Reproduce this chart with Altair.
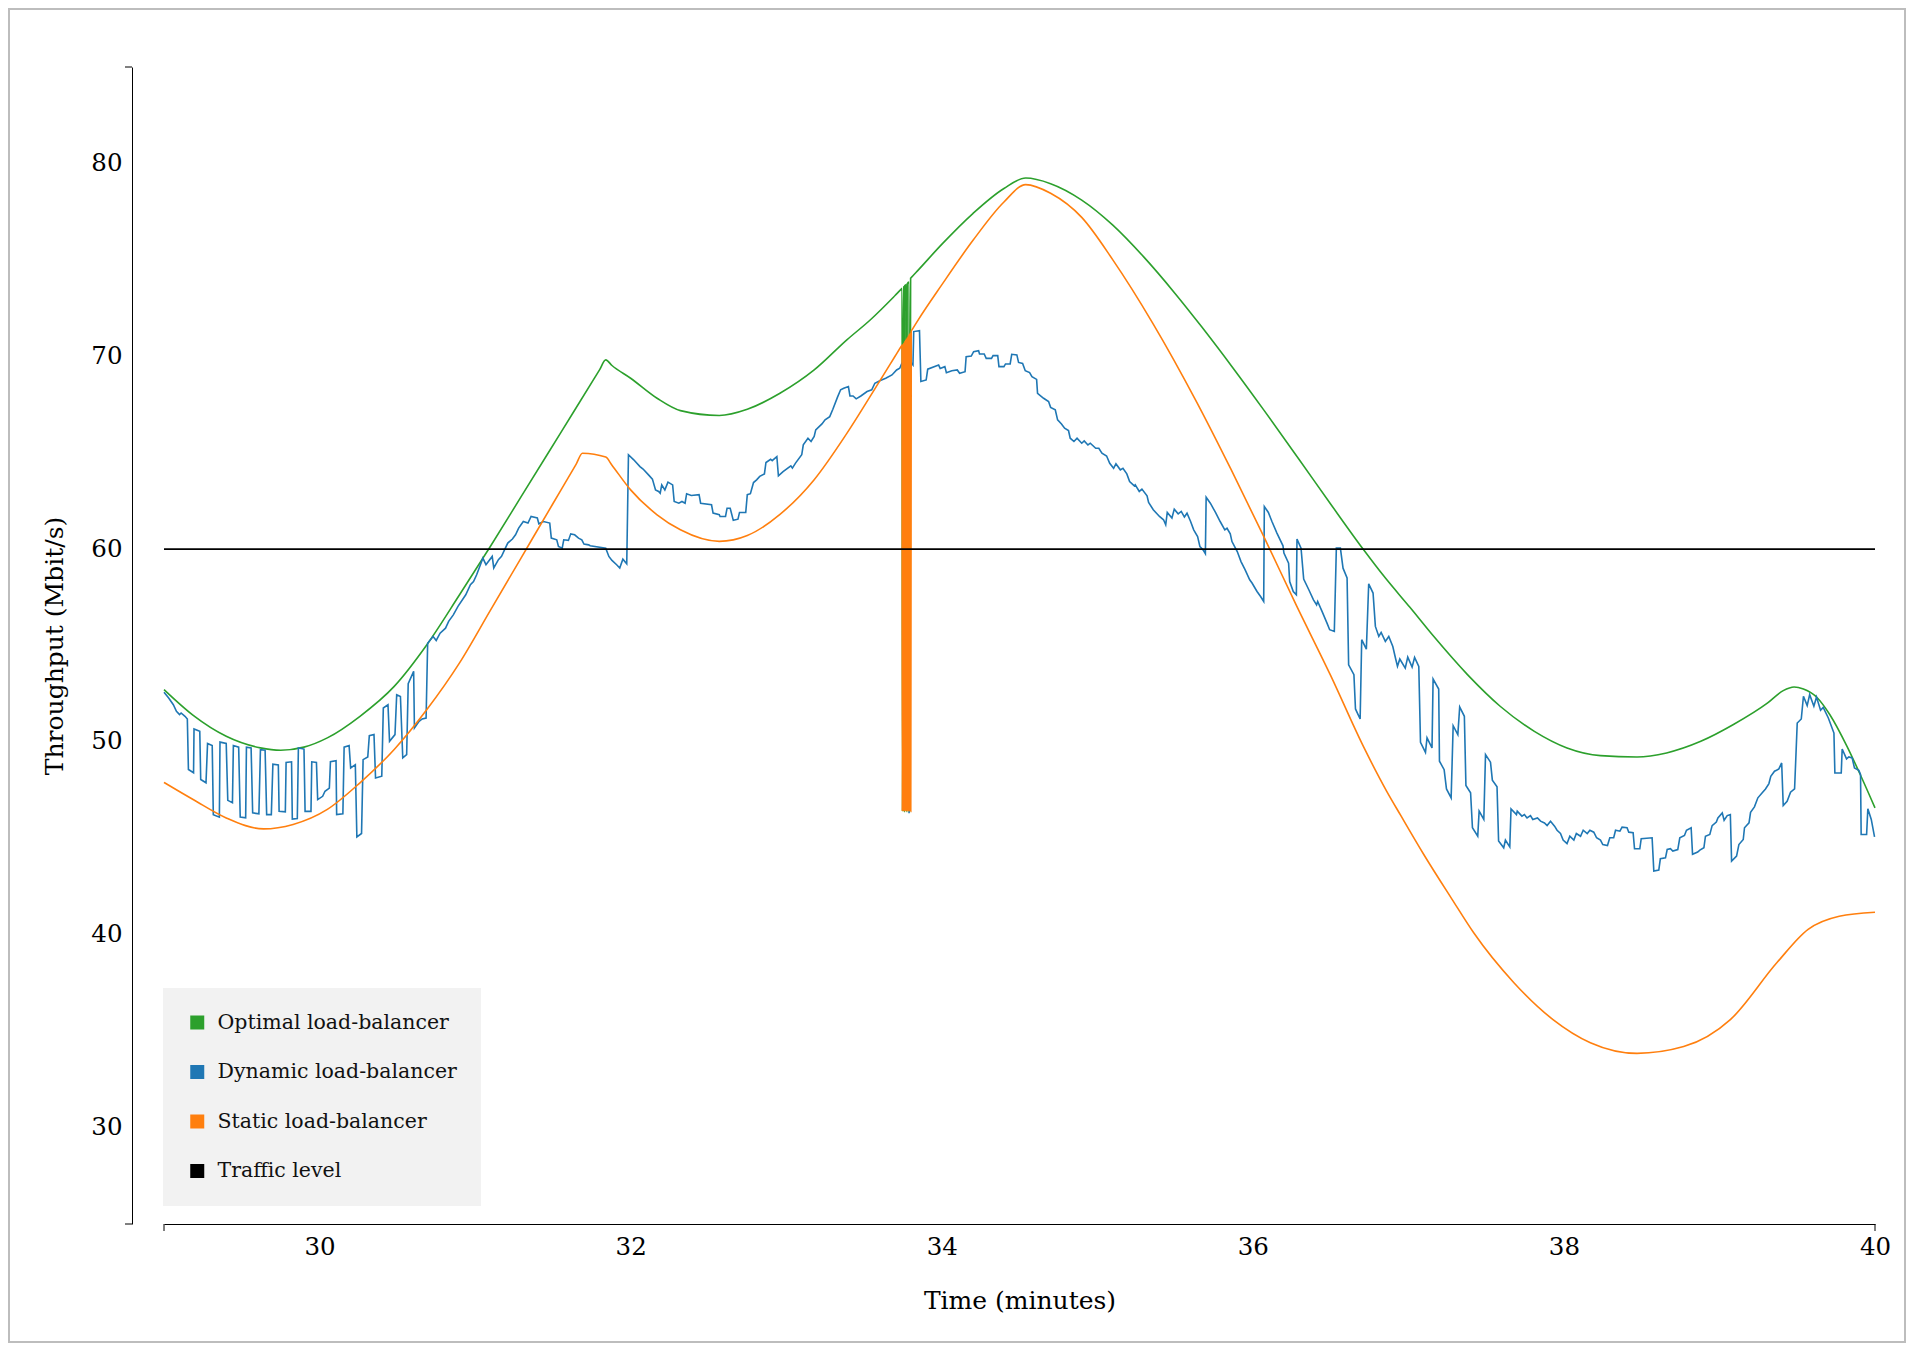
import altair as alt
import pandas as pd

# ---------------- data ----------------
series_names = ["Optimal load-balancer", "Dynamic load-balancer",
                "Static load-balancer", "Traffic level"]
series_colors = ["#2ca02c", "#1f77b4", "#ff7f0e", "#000000"]

x_ticks = [30, 32, 34, 36, 38, 40]
y_ticks = [30, 40, 50, 60, 70, 80]
x_domain = [29, 40]
y_domain = [25, 85]

optimal_t = [29.0, 29.19, 29.40, 29.62, 29.75, 29.90, 30.05, 30.26, 30.48, 30.69,
             30.90, 31.10, 31.30, 31.55, 31.80, 31.84, 31.88, 32.00, 32.17, 32.32,
             32.57, 32.75, 32.96, 33.18, 33.39, 33.54, 33.70, 33.74, 33.745,
             33.748, 33.752, 33.756, 33.758, 33.762, 33.772, 33.774, 33.778, 33.790, 33.792, 33.800,
             33.805, 33.85, 34.0, 34.2, 34.4, 34.54, 34.7, 34.9, 35.1, 35.3, 35.5, 35.67,
             35.87, 36.07, 36.3, 36.5, 36.71, 36.85, 37.01, 37.16, 37.38, 37.59,
             37.81, 38.02, 38.235, 38.47, 38.66, 38.88, 39.09, 39.31, 39.41, 39.48,
             39.54, 39.63, 39.71, 39.82, 39.91, 40.0]
optimal_v = [52.71, 51.36, 50.29, 49.69, 49.57, 49.73, 50.21, 51.33, 52.88, 55.04,
             57.63, 60.16, 62.77, 66.03, 69.29, 69.81, 69.52, 68.86, 67.82, 67.18,
             66.93, 67.25, 68.08, 69.29, 70.85, 71.88, 73.15, 73.48, 73.52,
             46.4, 73.6, 73.6, 46.4, 73.65, 73.7, 46.4, 73.75, 73.85, 46.4, 74.05,
             74.09, 74.48, 75.8, 77.4, 78.7, 79.24, 78.95, 78.1, 76.8, 75.14, 73.26, 71.54,
             69.42, 67.22, 64.62, 62.34, 59.99, 58.52, 56.98, 55.5, 53.49, 51.85,
             50.55, 49.69, 49.29, 49.22, 49.43, 50.03, 50.9, 52.02, 52.66, 52.85,
             52.74, 52.28, 51.41, 49.77, 48.22, 46.58]

static_t = [29.0, 29.19, 29.40, 29.64, 29.83, 30.05, 30.26, 30.48, 30.69, 30.90,
            31.10, 31.30, 31.50, 31.65, 31.69, 31.84, 31.88, 32.00, 32.17, 32.32,
            32.57, 32.75, 32.96, 33.18, 33.39, 33.60, 33.70, 33.74, 33.745,
            33.747, 33.751, 33.753, 33.757, 33.759, 33.763, 33.765, 33.769, 33.771, 33.775,
            33.777, 33.781, 33.783, 33.787, 33.789, 33.793, 33.795, 33.799, 33.801, 33.804,
            33.81, 33.85, 34.0, 34.2, 34.4, 34.54, 34.7, 34.9, 35.1, 35.36, 35.64,
            35.86, 36.07, 36.28, 36.50, 36.71, 36.86, 36.95, 37.10, 37.28, 37.42,
            37.68, 37.93, 38.17, 38.47, 38.77, 39.07, 39.37, 39.57, 39.77, 40.0]
static_v = [47.9, 47.0, 46.06, 45.49, 45.72, 46.5, 47.88, 49.61, 51.68, 54.1,
            56.85, 59.6, 62.35, 64.41, 64.97, 64.77, 64.35, 63.07, 61.78, 61.0,
            60.4, 60.7, 61.8, 63.6, 66.0, 68.7, 70.0, 70.52, 70.58,
            46.4, 70.65, 46.4, 70.72, 46.4, 70.8, 46.4, 70.88, 46.4, 70.95,
            46.4, 71.02, 46.4, 71.1, 46.4, 71.18, 46.4, 71.25, 46.4, 71.3,
            71.38, 71.9, 73.7, 76.0, 78.0, 78.9, 78.45, 77.2, 75.0, 71.67, 67.61,
            64.13, 60.66, 57.08, 53.45, 49.78, 47.45, 46.2, 44.15, 41.85, 40.1,
            37.5, 35.6, 34.4, 33.85, 34.2, 35.6, 38.56, 40.28, 40.96, 41.17]

dynamic_t = [
    29.00, 29.03, 29.06, 29.08, 29.10, 29.11, 29.135, 29.15, 29.157, 29.19,
    29.193, 29.23, 29.236, 29.27, 29.28, 29.31, 29.317, 29.356, 29.36, 29.40,
    29.41, 29.44, 29.446, 29.48, 29.49, 29.525, 29.53, 29.56, 29.57, 29.61,
    29.62, 29.65, 29.66, 29.69, 29.70, 29.735, 29.74, 29.78, 29.785, 29.82,
    29.825, 29.857, 29.864, 29.90, 29.907, 29.945, 29.95, 29.98, 29.988, 30.02,
    30.035, 30.063, 30.07, 30.106, 30.11, 30.15, 30.158, 30.19, 30.20, 30.23,
    30.24, 30.27, 30.28, 30.31, 30.32, 30.35, 30.36, 30.40, 30.41, 30.44,
    30.45, 30.485, 30.496, 30.52, 30.535, 30.56, 30.57, 30.605, 30.61, 30.64,
    30.66, 30.685, 30.695, 30.73, 30.75, 30.775, 30.81, 30.83, 30.86, 30.89,
    30.94, 30.97, 30.99, 31.01, 31.03, 31.05, 31.07, 31.11, 31.12, 31.15,
    31.17, 31.19, 31.21, 31.24, 31.26, 31.28, 31.31, 31.34, 31.36, 31.40,
    31.41, 31.44, 31.48, 31.49, 31.525, 31.536, 31.56, 31.57, 31.60, 31.615,
    31.64, 31.665, 31.686, 31.70, 31.73, 31.74, 31.84, 31.86, 31.88, 31.91,
    31.93, 31.95, 31.975, 31.986, 32.02, 32.06, 32.08, 32.115, 32.14, 32.16,
    32.18, 32.19, 32.20, 32.22, 32.24, 32.27, 32.28, 32.31, 32.33, 32.35,
    32.36, 32.39, 32.44, 32.45, 32.52, 32.53, 32.57, 32.575, 32.61, 32.62,
    32.64, 32.66, 32.69, 32.70, 32.74, 32.75, 32.77, 32.79, 32.81, 32.83,
    32.86, 32.87, 32.90, 32.91, 32.94, 32.95, 32.98, 33.03, 33.04, 33.06,
    33.10, 33.11, 33.14, 33.16, 33.18, 33.19, 33.23, 33.25, 33.28, 33.30,
    33.33, 33.35, 33.37, 33.40, 33.41, 33.43, 33.45, 33.48, 33.52, 33.55,
    33.57, 33.605, 33.64, 33.68, 33.71, 33.73, 33.744, 33.787, 33.790, 33.795,
    33.815, 33.82, 33.857, 33.866, 33.90, 33.91, 33.98, 33.99, 34.02, 34.03,
    34.065, 34.10, 34.115, 34.15, 34.157, 34.19, 34.205, 34.237, 34.243, 34.273,
    34.286, 34.32, 34.33, 34.36, 34.368, 34.40, 34.41, 34.44, 34.45, 34.483,
    34.494, 34.52, 34.537, 34.565, 34.58, 34.61, 34.616, 34.655, 34.687, 34.70,
    34.73, 34.745, 34.77, 34.79, 34.815, 34.826, 34.85, 34.87, 34.90, 34.916,
    34.94, 34.955, 34.99, 35.01, 35.03, 35.06, 35.08, 35.105, 35.12, 35.148,
    35.165, 35.19, 35.208, 35.238, 35.244, 35.27, 35.287, 35.32, 35.33, 35.36,
    35.40, 35.426, 35.44, 35.45, 35.48, 35.495, 35.52, 35.54, 35.56, 35.577,
    35.60, 35.62, 35.645, 35.66, 35.68, 35.695, 35.70, 35.727, 35.76, 35.79,
    35.82, 35.834, 35.855, 35.866, 35.90, 35.924, 35.95, 35.98, 35.995, 36.027,
    36.05, 36.07, 36.074, 36.10, 36.123, 36.155, 36.194, 36.20, 36.23, 36.237,
    36.26, 36.28, 36.284, 36.31, 36.327, 36.36, 36.39, 36.41, 36.417, 36.445,
    36.477, 36.494, 36.524, 36.537, 36.563, 36.58, 36.606, 36.616, 36.65, 36.66,
    36.69, 36.70, 36.73, 36.745, 36.773, 36.788, 36.81, 36.825, 36.852, 36.874,
    36.90, 36.917, 36.93, 36.945, 36.98, 36.996, 37.024, 37.04, 37.067, 37.078,
    37.11, 37.12, 37.152, 37.159, 37.195, 37.20, 37.23, 37.245, 37.275, 37.288,
    37.318, 37.33, 37.36, 37.37, 37.40, 37.412, 37.446, 37.455, 37.485, 37.496,
    37.528, 37.54, 37.57, 37.58, 37.613, 37.624, 37.652, 37.66, 37.695, 37.70,
    37.73, 37.746, 37.763, 37.785, 37.80, 37.83, 37.85, 37.875, 37.892, 37.914,
    37.94, 37.956, 37.978, 37.995, 38.02, 38.038, 38.064, 38.08, 38.107, 38.124,
    38.15, 38.167, 38.192, 38.21, 38.235, 38.25, 38.28, 38.295, 38.32, 38.332,
    38.36, 38.374, 38.406, 38.417, 38.445, 38.454, 38.488, 38.497, 38.567, 38.578,
    38.61, 38.62, 38.653, 38.664, 38.685, 38.70, 38.732, 38.745, 38.775, 38.788,
    38.818, 38.827, 38.86, 38.874, 38.90, 38.91, 38.938, 38.953, 38.98, 38.99,
    39.018, 39.03, 39.05, 39.07, 39.078, 39.11, 39.125, 39.153, 39.161, 39.19,
    39.20, 39.225, 39.247, 39.275, 39.296, 39.318, 39.33, 39.354, 39.367, 39.382,
    39.40, 39.41, 39.435, 39.457, 39.483, 39.50, 39.526, 39.54, 39.564, 39.58,
    39.607, 39.624, 39.65, 39.667, 39.70, 39.736, 39.742, 39.783, 39.789, 39.817,
    39.832, 39.853, 39.868, 39.896, 39.907, 39.911, 39.946, 39.954, 39.976, 39.997]
dynamic_v = [
    52.57, 52.28, 51.93, 51.59, 51.42, 51.50, 51.33, 51.19, 48.57, 48.40,
    50.67, 50.55, 48.05, 47.88, 49.92, 49.81, 46.23, 46.10, 49.99, 49.92,
    46.97, 46.85, 49.81, 49.73, 46.10, 46.06, 49.73, 49.69, 46.32, 46.27,
    49.60, 49.57, 46.23, 46.23, 48.84, 48.80, 46.40, 46.37, 48.94, 48.97,
    46.00, 46.03, 49.69, 49.63, 46.40, 46.40, 48.97, 48.94, 47.01, 47.18,
    47.44, 47.60, 48.97, 49.02, 46.23, 46.27, 49.73, 49.81, 48.65, 48.82,
    45.07, 45.25, 49.08, 49.22, 50.32, 50.38, 48.13, 48.22, 51.76, 51.93,
    50.03, 50.38, 52.45, 52.36, 49.17, 49.34, 53.02, 53.66, 50.72, 51.07,
    51.19, 51.24, 55.12, 55.47, 55.26, 55.64, 55.90, 56.25, 56.59, 57.03,
    57.63, 58.15, 58.32, 58.67, 59.10, 59.53, 59.19, 59.62, 59.02, 59.45,
    59.62, 59.97, 60.31, 60.52, 60.74, 61.09, 61.43, 61.35, 61.69, 61.61,
    61.31, 61.43, 61.35, 60.57, 60.48, 60.14, 60.05, 60.48, 60.45, 60.79,
    60.74, 60.57, 60.48, 60.26, 60.22, 60.17, 60.05, 59.62, 59.41, 59.19,
    59.02, 59.48, 59.24, 64.89, 64.63, 64.28, 64.15, 63.85, 63.63, 63.07,
    62.99, 62.90, 63.33, 63.07, 63.47, 63.33, 62.47, 62.38, 62.47, 62.38,
    62.87, 62.78, 62.82, 62.38, 62.30, 61.87, 61.78, 61.69, 61.69, 62.12,
    62.12, 61.49, 61.55, 61.90, 61.90, 62.82, 62.87, 63.45, 63.59, 63.77,
    63.90, 64.49, 64.66, 64.59, 64.80, 63.80, 64.02, 64.32, 64.20, 64.46,
    64.89, 65.41, 65.75, 65.58, 65.84, 66.18, 66.49, 66.70, 66.87, 67.25,
    67.88, 68.26, 68.34, 68.43, 67.94, 67.94, 67.79, 67.94, 68.17, 68.26,
    68.60, 68.74, 68.86, 69.03, 69.29, 69.38, 69.64, 69.70, 46.30, 69.75,
    69.55, 71.28, 71.33, 68.69, 68.77, 69.33, 69.55, 69.37, 69.46, 69.15,
    69.25, 69.29, 69.12, 69.20, 69.98, 70.01, 70.24, 70.29, 70.12, 70.12,
    69.89, 69.89, 70.03, 70.03, 69.46, 69.46, 69.60, 69.60, 70.10, 70.07,
    69.68, 69.63, 69.25, 69.15, 68.94, 68.80, 68.08, 67.82, 67.65, 67.35,
    67.22, 66.70, 66.49, 66.27, 66.15, 65.75, 65.58, 65.75, 65.49, 65.61,
    65.40, 65.49, 65.23, 65.23, 64.97, 64.83, 64.45, 64.19, 64.42, 64.11,
    64.19, 63.90, 63.50, 63.28, 63.33, 62.99, 63.11, 62.76, 62.42, 62.04,
    61.69, 61.52, 61.26, 61.90, 61.61, 62.07, 61.83, 61.95, 61.66, 61.86,
    61.43, 61.00, 60.65, 60.13, 59.96, 59.76, 62.69, 62.38, 61.90, 61.43,
    61.00, 61.08, 60.79, 60.39, 59.87, 59.35, 58.93, 58.41, 58.24, 57.80,
    57.54, 57.28, 62.21, 61.90, 61.43, 60.83, 60.17, 59.79, 59.27, 58.32,
    57.80, 57.63, 60.52, 60.05, 58.45, 57.89, 57.37, 57.11, 57.28, 56.77,
    56.16, 55.82, 55.73, 60.05, 60.05, 59.01, 58.50, 54.00, 53.49, 51.71,
    51.19, 55.30, 54.81, 58.20, 57.72, 55.99, 55.47, 55.68, 55.21, 55.47,
    54.95, 54.35, 53.92, 54.30, 53.83, 54.40, 53.88, 54.38, 53.92, 49.98,
    49.46, 50.21, 49.69, 53.26, 52.74, 49.00, 48.56, 47.56, 47.10, 50.84,
    50.38, 51.81, 51.33, 47.74, 47.36, 45.55, 45.11, 46.41, 45.98, 49.34,
    48.95, 48.02, 47.67, 44.86, 44.51, 44.91, 44.56, 46.53, 46.23, 46.41,
    46.15, 46.23, 46.06, 46.18, 45.98, 46.06, 45.89, 45.80, 45.66, 45.89,
    45.63, 45.42, 45.25, 44.91, 44.73, 45.11, 44.91, 45.25, 45.11, 45.42,
    45.25, 45.42, 45.32, 45.03, 44.91, 44.68, 44.63, 45.03, 45.03, 45.42,
    45.37, 45.58, 45.55, 45.32, 45.29, 44.46, 44.46, 44.98, 45.03, 43.30,
    43.35, 43.94, 43.99, 44.42, 44.46, 44.34, 44.42, 45.03, 45.15, 45.42,
    45.55, 44.17, 44.29, 44.39, 44.51, 45.11, 45.20, 45.66, 45.84, 46.06,
    46.32, 45.94, 46.18, 46.23, 43.82, 44.08, 44.68, 44.94, 45.55, 45.80,
    46.35, 46.63, 47.10, 47.36, 47.56, 47.84, 48.22, 48.48, 48.53, 48.60,
    48.91, 46.70, 46.92, 47.39, 47.56, 50.98, 51.19, 52.37, 51.88, 52.45,
    51.85, 52.33, 51.64, 51.79, 51.24, 50.46, 48.39, 48.39, 49.63, 49.12,
    49.22, 49.17, 48.65, 48.53, 48.31, 45.20, 45.20, 46.53, 45.98, 45.08]

traffic_t = [29.0, 40.0]
traffic_v = [60.0, 60.0]

# ---------------- build the table ----------------
frames = []
for name, ts, vs in [(series_names[0], optimal_t, optimal_v),
                     (series_names[1], dynamic_t, dynamic_v),
                     (series_names[2], static_t, static_v),
                     (series_names[3], traffic_t, traffic_v)]:
    frames.append(pd.DataFrame({"t": ts, "v": vs, "series": name,
                                "i": list(range(len(ts)))}))
df = pd.concat(frames, ignore_index=True)

W, H = 1711, 1157
FONT = "DejaVu Serif"

x_enc = alt.X("t:Q",
              scale=alt.Scale(domain=x_domain, nice=False, zero=False),
              axis=alt.Axis(values=x_ticks, title="Time (minutes)", grid=False,
                            ticks=False, tickSize=0, domainColor="#000",
                            domainWidth=1, labelFont=FONT, labelFontSize=24.5,
                            labelColor="#000", labelPadding=11, labelFlush=False,
                            labelOverlap=False, titleFont=FONT, titleFontSize=25,
                            titleFontWeight="normal", titleColor="#000",
                            titlePadding=30))
y_enc = alt.Y("v:Q",
              scale=alt.Scale(domain=y_domain, nice=False, zero=False),
              axis=alt.Axis(values=y_ticks, title="Throughput (Mbit/s)", grid=False,
                            ticks=False, tickSize=0, offset=32, domainColor="#000",
                            domainWidth=1, labelFont=FONT, labelFontSize=24.5,
                            labelColor="#000", labelPadding=10, labelFlush=False,
                            labelOverlap=False, titleFont=FONT, titleFontSize=25,
                            titleFontWeight="normal", titleColor="#000",
                            titlePadding=23))
color_enc = alt.Color("series:N",
                      scale=alt.Scale(domain=series_names, range=series_colors),
                      legend=alt.Legend(title=None, orient="none", legendX=-1,
                                        legendY=921, fillColor="#f2f2f2",
                                        padding=24, symbolType="square",
                                        symbolSize=49, symbolStrokeWidth=7,
                                        symbolOpacity=1, labelFont=FONT,
                                        labelFontSize=20.5, labelColor="#111",
                                        labelOffset=10, rowPadding=28.5,
                                        clipHeight=21, labelLimit=500))

border = alt.Chart(pd.DataFrame({"a": [0]})).mark_rect(
    fill="transparent", stroke="#bdbdbd", strokeWidth=2).encode(
    x=alt.value(-155), x2=alt.value(W + 30), y=alt.value(-58), y2=alt.value(H + 118))

lines = []
for name in series_names:
    interp = "monotone" if name in (series_names[0], series_names[2]) else "linear"
    lines.append(
        alt.Chart(df).transform_filter(alt.datum.series == name)
        .mark_line(strokeWidth=1.6 if name != "Traffic level" else 1.8,
                   interpolate=interp)
        .encode(x=x_enc, y=y_enc, color=color_enc, order=alt.Order("i:Q"))
    )

x_end_ticks = alt.Chart(pd.DataFrame({"t": x_domain})).mark_rule(
    color="#000", strokeWidth=1).encode(x=x_enc, y=alt.value(H), y2=alt.value(H + 7))
y_end_ticks = alt.Chart(pd.DataFrame({"v": y_domain})).mark_rule(
    color="#000", strokeWidth=1).encode(y=y_enc, x=alt.value(-39), x2=alt.value(-32))

chart = alt.layer(border, *lines, x_end_ticks, y_end_ticks).properties(
    width=W, height=H,
    autosize=alt.AutoSizeParams(type="none"),
    padding={"left": 156, "top": 59, "right": 31, "bottom": 119},
    background="white",
).configure_view(stroke=None)

chart.save("out.html", embed_options={"renderer": "svg", "actions": False})
